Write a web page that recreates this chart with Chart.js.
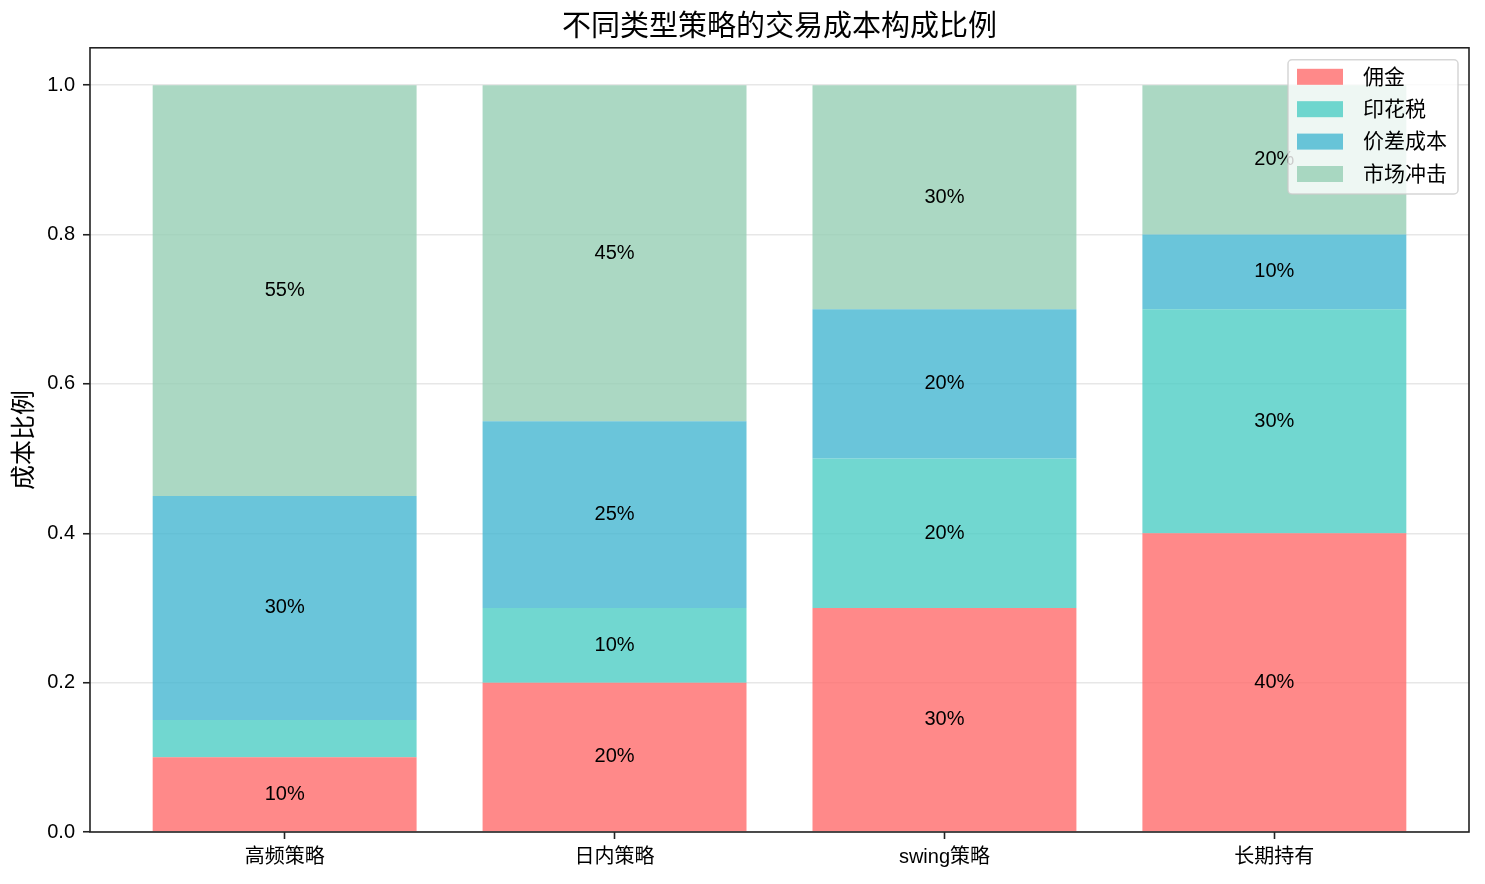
<!DOCTYPE html>
<html>
<head>
<meta charset="utf-8">
<script src="https://cdn.jsdelivr.net/npm/chart.js@4.4.0/dist/chart.umd.min.js"></script>
<style>
  html, body { margin: 0; padding: 0; background: #fff; }
  #wrap { width: 1485px; height: 884px; }
</style>
</head>
<body>
<div id="wrap"><canvas id="chart"></canvas></div>
<script>
const FONT = "'Liberation Sans', Arial, 'Noto Sans CJK SC', sans-serif";

const strategies = ['高频策略', '日内策略', 'swing策略', '长期持有'];
const costNames = ['佣金', '印花税', '价差成本', '市场冲击'];
const commission = [0.10, 0.20, 0.30, 0.40];
const stampTax = [0.05, 0.10, 0.20, 0.30];
const spreadCost = [0.30, 0.25, 0.20, 0.10];
const marketImpact = [0.55, 0.45, 0.30, 0.20];
const yTicks = [0, 0.2, 0.4, 0.6, 0.8, 1.0];
const colors = ['rgba(255,107,107,0.8)', 'rgba(78,205,196,0.8)', 'rgba(69,183,209,0.8)', 'rgba(150,206,180,0.8)'];

const series = [commission, stampTax, spreadCost, marketImpact];
const datasets = series.map((vals, i) => ({
  label: costNames[i],
  data: vals.map((v, j) => ({ x: j, y: v })),
  backgroundColor: colors[i],
  borderWidth: 0,
  categoryPercentage: 0.8,
  barPercentage: 1.0
}));

// percent text in the middle of each segment, frame, and legend box
const extras = {
  id: 'extras',
  afterLayout(chart) {
    // center the title over the plot area, not the whole canvas
    if (chart.titleBlock) {
      chart.titleBlock.left = chart.chartArea.left;
      chart.titleBlock.right = chart.chartArea.right;
    }
  },
  afterDatasetsDraw(chart) {
    const ctx = chart.ctx;
    const area = chart.chartArea;
    ctx.save();
    ctx.font = '20px ' + FONT;
    ctx.fillStyle = '#000';
    ctx.textAlign = 'center';
    ctx.textBaseline = 'middle';
    chart.data.datasets.forEach((ds, i) => {
      chart.getDatasetMeta(i).data.forEach((bar, j) => {
        const v = ds.data[j].y;
        if (v > 0.05) {
          ctx.fillText(Math.round(v * 100) + '%', bar.x, (bar.y + bar.base) / 2);
        }
      });
    });

    // axes frame
    ctx.strokeStyle = '#222';
    ctx.lineWidth = 1.6;
    ctx.strokeRect(area.left, area.top, area.right - area.left, area.bottom - area.top);

    // legend
    ctx.font = '21px ' + FONT;
    let maxW = 0;
    chart.data.datasets.forEach(ds => { maxW = Math.max(maxW, ctx.measureText(ds.label).width); });
    const rowH = 32.4;
    const boxW = 75 + maxW + 11;
    const boxH = 17 + rowH * 3 + 20;
    const bx = area.right - 11 - boxW;
    const by = area.top + 12;
    ctx.beginPath();
    ctx.roundRect(bx, by, boxW, boxH, 4);
    ctx.fillStyle = 'rgba(255,255,255,0.8)';
    ctx.fill();
    ctx.strokeStyle = 'rgba(204,204,204,0.8)';
    ctx.lineWidth = 1.5;
    ctx.stroke();
    ctx.textAlign = 'left';
    chart.data.datasets.forEach((ds, i) => {
      const cy = by + 17 + i * rowH;
      ctx.fillStyle = ds.backgroundColor;
      ctx.fillRect(bx + 9, cy - 8, 46, 16);
      ctx.fillStyle = '#000';
      ctx.fillText(ds.label, bx + 75, cy + 1);
    });
    ctx.restore();
  }
};

new Chart(document.getElementById('chart'), {
  type: 'bar',
  data: { datasets },
  plugins: [extras],
  options: {
    responsive: true,
    maintainAspectRatio: false,
    animation: false,
    layout: { padding: { left: 0, right: 16, top: 0, bottom: 0 } },
    plugins: {
      legend: { display: false },
      tooltip: { enabled: false },
      title: {
        display: true,
        text: '不同类型策略的交易成本构成比例',
        color: '#000',
        font: { family: FONT, size: 29, weight: 'normal', lineHeight: 1.2 },
        padding: { top: 11, bottom: 2 }
      }
    },
    scales: {
      x: {
        type: 'linear',
        stacked: true,
        offset: false,
        min: -0.59,
        max: 3.59,
        border: { display: false },
        grid: { offset: false, drawOnChartArea: false, drawTicks: true, tickLength: 7, tickColor: '#222', tickWidth: 1.6 },
        afterBuildTicks: axis => { axis.ticks = strategies.map((s, i) => ({ value: i })); },
        ticks: {
          autoSkip: false,
          maxRotation: 0,
          padding: 6,
          color: '#000',
          font: { family: FONT, size: 20 },
          callback: v => strategies[v]
        },
        afterFit: axis => { axis.height = 52; }
      },
      y: {
        stacked: true,
        min: 0,
        max: 1.05,
        border: { display: false },
        grid: { color: 'rgba(176,176,176,0.3)', lineWidth: 1.5, tickLength: 7, tickColor: '#222', tickWidth: 1.6 },
        afterBuildTicks: axis => { axis.ticks = yTicks.map(v => ({ value: v })); },
        ticks: {
          padding: 8,
          color: '#000',
          font: { family: FONT, size: 20 },
          callback: v => v.toFixed(1)
        },
        title: {
          display: true,
          text: '成本比例',
          color: '#000',
          font: { family: FONT, size: 25, lineHeight: 1.2 },
          padding: { top: 10, bottom: 0 }
        },
        afterFit: axis => { axis.width = 90; }
      }
    }
  }
});
</script>
</body>
</html>
